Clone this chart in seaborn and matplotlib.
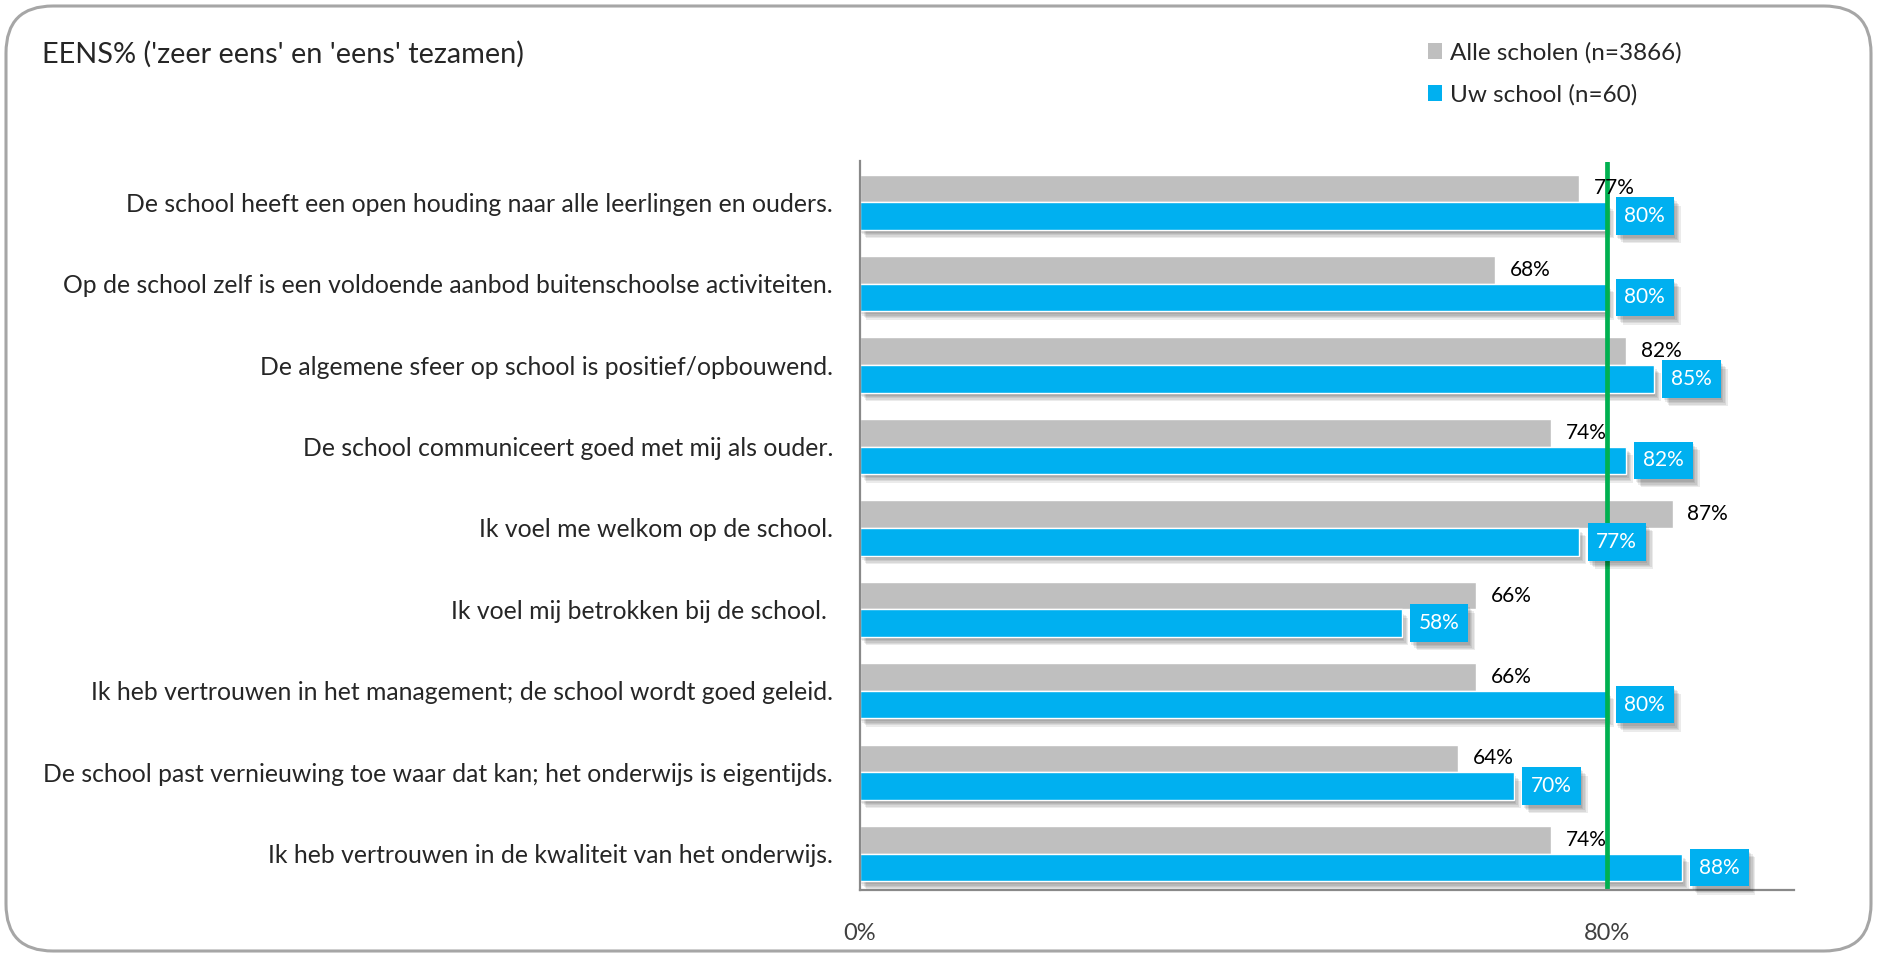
import pandas as pd
import seaborn as sns
import matplotlib.pyplot as plt
import matplotlib.patheffects as pe
from matplotlib.patches import FancyBboxPatch, Patch

vragen = [
    "De school heeft een open houding naar alle leerlingen en ouders.",
    "Op de school zelf is een voldoende aanbod buitenschoolse activiteiten.",
    "De algemene sfeer op school is positief/opbouwend.",
    "De school communiceert goed met mij als ouder.",
    "Ik voel me welkom op de school.",
    "Ik voel mij betrokken bij de school. ",
    "Ik heb vertrouwen in het management; de school wordt goed geleid.",
    "De school past vernieuwing toe waar dat kan; het onderwijs is eigentijds.",
    "Ik heb vertrouwen in de kwaliteit van het onderwijs.",
]
alle_scholen = [77, 68, 82, 74, 87, 66, 66, 64, 74]
uw_school = [80, 80, 85, 82, 77, 58, 80, 70, 88]
reeksen = ["Alle scholen (n=3866)", "Uw school (n=60)"]
norm = 80

GRIJS = "#BFBFBF"
BLAUW = "#00B0F0"
GROEN = "#00B050"

df = pd.DataFrame({
    "vraag": vragen * 2,
    "pct": alle_scholen + uw_school,
    "reeks": [reeksen[0]] * len(vragen) + [reeksen[1]] * len(vragen),
})

sns.set_style("white")
plt.rcParams["font.family"] = ["Lato", "DejaVu Sans"]

fig = plt.figure(figsize=(18.77, 9.57), dpi=100)
ax = fig.add_axes([859.5 / 1877, 1 - 889.5 / 957, (1794 - 859.5) / 1877, (889.5 - 161.5) / 957])

sns.barplot(data=df, x="pct", y="vraag", hue="reeks", order=vragen,
            hue_order=reeksen, palette=[GRIJS, BLAUW], width=0.68,
            orient="h", saturation=1, legend=False, ax=ax)

# zachte schaduw: een paar lichte lagen over elkaar
schaduw = [pe.SimplePatchShadow(offset=(1 + i, -2 - i), shadow_rgbFace="#000000", alpha=0.08)
           for i in range(5)] + [pe.Normal()]
for bar in ax.containers[1]:
    bar.set_path_effects(schaduw)

ax.axvline(norm, color=GROEN, lw=3.4, zorder=1.5)

for bar, v in zip(ax.containers[0], alle_scholen):
    y = bar.get_y() + bar.get_height() / 2
    ax.text(v + 1.6, y, f"{v}%", va="center", ha="left", fontsize=15, color="#000000", zorder=4)

for bar, v in zip(ax.containers[1], uw_school):
    y = bar.get_y() + bar.get_height() / 2
    t = ax.text(v + 1.85, y, f"{v}%", va="center", ha="left", fontsize=15, color="white", zorder=4,
                bbox=dict(boxstyle="square,pad=0.42", fc=BLAUW, ec="none"))
    t.get_bbox_patch().set_path_effects(schaduw)

ax.set_xlim(0, 100)
ax.set_ylim(8.44, -0.5)
ax.set_xticks([0, 80])
ax.set_xticklabels(["0%", "80%"])
ax.set_xlabel("")
ax.set_ylabel("")
ax.tick_params(axis="x", length=6, width=1.2, color="#898989", labelsize=17, labelcolor="#404040", pad=18)
ax.tick_params(axis="y", length=0, labelsize=17.8, labelcolor="#262626", pad=19)
for s in ["top", "right"]:
    ax.spines[s].set_visible(False)
for s in ["left", "bottom"]:
    ax.spines[s].set_color("#898989")
    ax.spines[s].set_linewidth(1.6)

fig.text(42 / 1877, 1 - 54 / 957, "EENS% ('zeer eens' en 'eens' tezamen)", fontsize=20.8,
         color="#262626", va="center", ha="left")

handles = [Patch(facecolor=GRIJS, edgecolor="none"), Patch(facecolor=BLAUW, edgecolor="none")]
fig.legend(handles, reeksen, loc="upper left", bbox_to_anchor=(1406 / 1877, 1 - 20 / 957),
           frameon=False, fontsize=17.5, handlelength=0.6, handleheight=0.6, handletextpad=0.3,
           labelspacing=0.85, labelcolor="#262626")

rand = FancyBboxPatch((6 / 1877, 6 / 957), 1 - 12 / 1877, 1 - 12 / 957,
                      boxstyle="round,pad=0,rounding_size=0.025", transform=fig.transFigure,
                      fc="none", ec="#A6A6A6", lw=2.2, mutation_aspect=1877 / 957)
fig.patches.append(rand)

fig.savefig("out.png", dpi=100, facecolor="white")
